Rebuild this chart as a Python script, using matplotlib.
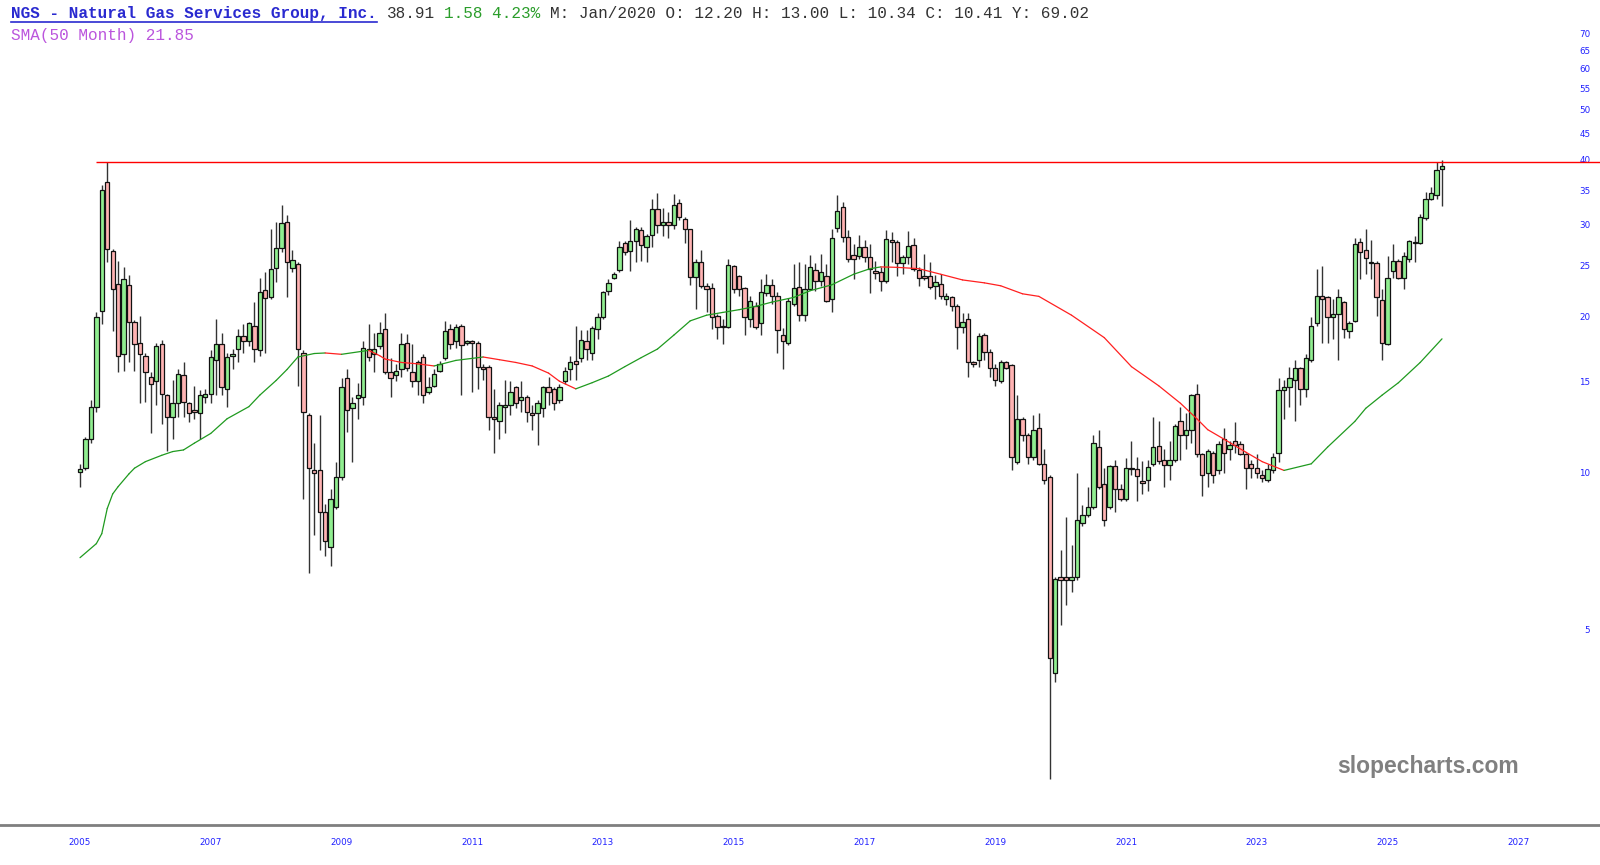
import numpy as np
import matplotlib
matplotlib.use('Agg')
import matplotlib.pyplot as plt
from matplotlib.lines import Line2D

# Monthly OHLC for NGS, one bar per month (first bar is May 2005)
opens = [
    10.05, 10.2, 11.6, 13.4, 20.5, 36.3, 26.7, 23.1, 16.9, 23.0,
    19.5, 17.8, 16.8, 15.3, 15.0, 17.7, 14.1, 12.8, 13.6, 15.4,
    13.6, 13.2, 13.0, 14.0, 14.2, 16.5, 17.7, 14.5, 16.8, 17.3,
    18.3, 17.9, 19.2, 17.2, 22.5, 21.8, 24.8, 27.1, 30.4, 24.8,
    25.2, 17.0, 12.9, 10.1, 10.1, 8.4, 7.2, 8.6, 9.8, 15.2,
    13.3, 13.9, 14.0, 17.3, 16.9, 17.5, 18.9, 15.6, 15.4, 15.8,
    17.8, 15.6, 15.0, 16.7, 14.3, 14.7, 15.7, 16.6, 18.9, 17.9,
    19.2, 17.8, 17.9, 17.8, 16.0, 16.0, 12.8, 12.6, 13.4, 13.5,
    14.6, 13.8, 14.0, 13.0, 13.0, 13.3, 14.6, 14.5, 13.8, 15.0,
    15.8, 16.4, 16.6, 17.9, 17.0, 18.9, 19.9, 22.4, 23.7, 24.6,
    27.7, 26.7, 27.9, 29.3, 27.2, 28.7, 32.2, 30.0, 30.4, 30.0,
    33.1, 30.8, 29.4, 23.8, 25.5, 22.9, 22.7, 20.0, 19.2, 19.1,
    25.0, 23.9, 22.7, 19.8, 20.9, 19.4, 22.2, 23.0, 21.9, 18.4,
    17.8, 21.1, 22.8, 20.1, 22.6, 24.6, 23.4, 23.9, 21.6, 29.6,
    32.5, 28.4, 26.2, 26.1, 27.2, 26.0, 24.5, 24.3, 23.4, 28.0,
    27.8, 25.3, 26.0, 27.4, 24.6, 23.9, 23.9, 22.9, 23.1, 21.6,
    21.8, 20.9, 19.1, 19.8, 16.3, 16.5, 18.4, 17.1, 15.9, 15.0,
    16.3, 16.1, 10.5, 12.7, 11.8, 10.7, 12.20, 10.4, 9.8, 4.12,
    6.3, 6.3, 6.2, 6.3, 8.0, 8.3, 8.6, 11.2, 9.5, 8.6,
    10.3, 9.3, 8.9, 10.2, 10.15, 9.65, 9.7, 10.4, 11.25, 10.6,
    10.35, 10.6, 12.6, 11.8, 12.1, 14.2, 10.85, 10.0, 10.9, 10.1,
    11.6, 11.1, 11.5, 11.35, 10.85, 10.4, 10.2, 9.9, 9.7, 10.1,
    10.9, 14.4, 14.6, 15.1, 15.9, 14.5, 16.5, 19.4, 21.9, 21.8,
    19.9, 20.2, 21.3, 18.7, 19.6, 27.8, 26.8, 25.5, 25.3, 21.5,
    17.7, 24.4, 25.6, 23.7, 25.8, 27.7, 27.7, 30.9, 33.7, 34.2,
    38.45]
highs = [
    10.4, 11.7, 13.8, 20.4, 35.8, 39.7, 27.0, 25.6, 24.9, 24.0,
    19.7, 20.0, 17.0, 15.6, 17.8, 18.0, 14.2, 15.1, 15.8, 16.3,
    13.7, 14.7, 14.4, 14.5, 17.2, 19.8, 18.6, 17.0, 17.3, 18.9,
    19.3, 19.5, 21.3, 23.7, 24.3, 29.5, 30.4, 32.7, 31.3, 26.8,
    25.4, 17.2, 13.0, 11.4, 12.9, 8.7, 9.3, 10.5, 15.2, 15.8,
    14.0, 14.9, 17.9, 19.3, 18.6, 19.5, 20.3, 16.6, 16.2, 18.6,
    18.5, 17.7, 16.5, 16.9, 15.3, 15.8, 16.4, 19.6, 19.3, 19.3,
    19.3, 18.0, 18.0, 17.9, 16.2, 16.1, 14.5, 13.7, 15.1, 15.0,
    14.7, 15.0, 14.1, 13.5, 13.8, 14.7, 15.3, 14.6, 14.8, 16.0,
    16.8, 19.2, 18.8, 18.8, 19.2, 20.3, 22.4, 23.6, 24.3, 27.9,
    27.9, 30.6, 29.7, 29.7, 28.8, 33.6, 34.6, 32.3, 31.8, 34.4,
    33.7, 31.0, 29.5, 25.8, 26.8, 23.2, 23.2, 20.2, 19.8, 25.8,
    25.1, 24.0, 22.8, 21.9, 21.3, 23.6, 24.1, 23.6, 22.3, 19.0,
    21.7, 25.2, 25.4, 25.2, 26.2, 25.3, 26.4, 25.2, 29.5, 34.2,
    33.2, 29.3, 27.6, 28.7, 28.0, 27.6, 25.6, 24.9, 29.3, 29.1,
    28.0, 26.3, 29.2, 28.3, 24.9, 26.4, 25.4, 24.0, 24.1, 22.2,
    21.9, 21.1, 20.3, 20.3, 16.4, 18.6, 18.6, 17.3, 16.2, 16.5,
    16.4, 16.2, 14.1, 12.8, 11.9, 12.9, 13.00, 11.1, 9.9, 6.3,
    7.1, 8.2, 7.25, 10.0, 8.65, 9.4, 11.8, 12.1, 10.2, 10.35,
    10.6, 9.5, 10.65, 11.5, 10.7, 10.55, 10.6, 12.8, 12.6, 11.1,
    11.5, 12.4, 13.4, 13.0, 14.2, 14.8, 10.9, 11.1, 11.0, 11.5,
    12.2, 11.5, 12.5, 11.5, 10.9, 10.6, 10.85, 10.1, 10.4, 10.9,
    15.2, 15.1, 16.0, 16.5, 16.0, 16.9, 19.9, 24.7, 25.0, 21.9,
    21.6, 22.6, 21.4, 19.6, 28.3, 28.3, 29.5, 28.0, 25.6, 22.6,
    26.1, 27.6, 25.8, 26.6, 28.0, 28.5, 31.5, 34.7, 35.5, 39.7,
    40.0]
lows = [
    9.4, 10.1, 11.4, 13.1, 19.3, 25.4, 18.7, 15.6, 15.7, 16.3,
    15.7, 13.6, 13.7, 11.9, 13.5, 12.4, 11.0, 11.6, 12.8, 12.8,
    12.5, 12.7, 11.6, 13.6, 13.6, 14.1, 14.1, 13.4, 15.8, 16.3,
    17.0, 17.5, 16.3, 16.8, 17.0, 21.6, 23.3, 26.6, 21.8, 24.3,
    14.7, 8.9, 6.4, 7.6, 7.1, 6.9, 6.6, 8.5, 9.7, 12.0,
    10.5, 12.7, 13.5, 16.4, 15.6, 17.3, 15.5, 14.0, 15.0, 15.3,
    15.7, 14.6, 14.1, 13.6, 14.2, 14.6, 15.6, 16.5, 17.3, 17.4,
    14.1, 17.6, 14.3, 14.5, 15.1, 12.1, 10.9, 11.6, 11.9, 12.9,
    13.3, 13.1, 12.5, 12.1, 11.3, 12.8, 13.5, 13.2, 13.6, 14.8,
    15.1, 15.1, 16.3, 16.5, 16.5, 18.1, 19.8, 22.0, 23.6, 24.3,
    26.3, 24.4, 25.4, 25.6, 25.4, 27.2, 28.9, 28.6, 28.3, 29.5,
    30.6, 27.7, 23.0, 20.7, 22.7, 20.4, 18.9, 18.1, 17.7, 19.0,
    22.2, 21.9, 18.4, 19.1, 18.9, 18.4, 21.9, 21.1, 17.0, 15.8,
    17.6, 20.9, 19.6, 19.6, 22.5, 22.4, 22.9, 21.3, 20.4, 29.1,
    27.8, 25.4, 23.6, 25.8, 25.4, 22.2, 23.6, 22.4, 23.2, 25.4,
    23.9, 24.1, 25.2, 24.5, 22.9, 23.5, 22.6, 21.6, 21.6, 21.0,
    20.5, 17.3, 18.6, 15.3, 16.0, 16.0, 16.5, 15.3, 14.7, 14.9,
    15.8, 10.1, 10.4, 11.5, 10.4, 10.6, 10.34, 9.5, 2.57, 3.95,
    5.1, 5.55, 5.9, 6.2, 7.9, 8.2, 8.5, 9.3, 7.9, 8.5,
    8.4, 8.8, 8.8, 9.9, 8.8, 9.1, 9.2, 10.3, 10.4, 9.4,
    9.7, 10.5, 10.6, 11.1, 11.4, 10.7, 9.0, 9.4, 9.55, 9.95,
    10.0, 10.6, 10.9, 10.8, 9.3, 9.75, 9.75, 9.6, 9.6, 10.0,
    10.5, 12.7, 13.4, 12.6, 13.5, 14.0, 16.3, 19.2, 17.8, 17.8,
    18.1, 16.5, 18.2, 18.2, 19.5, 23.6, 24.1, 23.6, 20.0, 16.5,
    17.6, 23.7, 23.6, 22.6, 25.4, 25.4, 27.5, 30.6, 33.5, 33.7,
    32.6]
closes = [
    10.15, 11.6, 13.4, 19.9, 35.0, 26.9, 22.6, 16.8, 23.6, 19.5,
    17.7, 16.9, 15.6, 14.8, 17.5, 14.2, 12.8, 13.6, 15.5, 13.7,
    13.0, 13.1, 14.1, 14.2, 16.7, 17.7, 14.6, 16.7, 16.9, 18.3,
    17.9, 19.4, 17.3, 22.3, 21.7, 24.7, 27.1, 30.3, 25.5, 25.7,
    17.3, 13.1, 10.2, 10.0, 8.4, 7.4, 8.9, 9.8, 14.6, 13.2,
    13.6, 14.1, 17.4, 16.7, 17.3, 18.6, 15.6, 15.2, 15.7, 17.7,
    15.9, 15.0, 16.3, 14.1, 14.6, 15.5, 16.2, 18.7, 17.7, 19.1,
    17.6, 17.9, 17.8, 16.0, 15.8, 12.8, 12.7, 13.5, 13.5, 14.3,
    13.6, 14.0, 13.1, 12.9, 13.6, 14.6, 14.3, 13.6, 14.6, 15.7,
    16.3, 16.2, 18.0, 17.3, 19.0, 19.9, 22.3, 23.2, 24.1, 27.2,
    26.6, 27.9, 29.4, 27.4, 28.6, 32.2, 30.0, 30.4, 30.0, 32.8,
    31.0, 29.4, 23.8, 25.5, 22.9, 22.6, 19.9, 19.1, 19.1, 25.1,
    22.6, 22.6, 19.9, 21.4, 19.1, 22.3, 23.0, 21.9, 18.8, 17.9,
    21.4, 22.7, 20.1, 22.6, 24.9, 23.4, 24.3, 21.4, 28.3, 31.9,
    28.4, 25.8, 25.8, 27.2, 26.0, 24.7, 24.2, 23.4, 28.2, 27.8,
    25.3, 26.0, 27.3, 24.7, 23.7, 23.7, 22.8, 23.3, 21.9, 21.9,
    20.9, 19.1, 19.5, 16.3, 16.2, 18.3, 17.1, 15.9, 15.1, 16.3,
    15.9, 10.7, 12.7, 11.8, 10.7, 12.1, 10.41, 9.7, 4.4, 6.25,
    6.2, 6.2, 6.3, 8.1, 8.3, 8.6, 11.4, 9.4, 8.1, 10.3,
    9.3, 8.9, 10.2, 10.15, 9.85, 9.55, 10.25, 11.2, 10.55, 10.35,
    10.6, 12.3, 11.8, 12.1, 14.1, 10.85, 9.9, 11.0, 9.9, 11.35,
    10.9, 11.3, 11.3, 10.85, 10.2, 10.2, 10.0, 9.75, 10.15, 10.7,
    14.4, 14.6, 15.2, 15.9, 14.5, 16.6, 19.2, 21.9, 21.6, 19.9,
    20.2, 21.8, 18.9, 19.4, 27.6, 26.6, 25.9, 25.3, 21.8, 17.8,
    23.7, 25.6, 23.7, 26.1, 27.9, 27.8, 31.0, 33.6, 34.6, 38.2,
    38.91]

# 50-month SMA at these bar numbers
sma_month = [0, 3, 4, 5, 6, 7, 9, 10, 12, 15,
             17, 19, 21, 24, 27, 31, 33, 36, 38, 40,
             43, 45, 48, 53, 55, 56, 59, 62, 65, 69,
             74, 77, 80, 83, 86, 88, 91, 94, 97, 100,
             103, 106, 109, 112, 115, 118, 121, 124, 127, 131,
             134, 138, 142, 145, 147, 150, 154, 158, 162, 166,
             169, 173, 176, 182, 188, 193, 198, 202, 205, 207,
             210, 214, 217, 221, 226, 229, 234, 236, 239, 242,
             246, 250]
sma_value = [6.86, 7.3, 7.63, 8.53, 9.1, 9.4, 9.95, 10.2, 10.5, 10.8,
             10.98, 11.06, 11.4, 11.9, 12.7, 13.4, 14.1, 15.05, 15.8, 16.7,
             16.96, 17.0, 16.9, 17.2, 16.8, 16.55, 16.3, 16.2, 16.05, 16.45,
             16.7, 16.5, 16.3, 16.05, 15.55, 15.0, 14.5, 14.9, 15.35, 16.0,
             16.65, 17.3, 18.4, 19.6, 20.1, 20.35, 20.6, 20.9, 21.3, 21.75,
             22.4, 23.0, 24.1, 24.7, 24.9, 24.85, 24.7, 24.1, 23.5, 23.2,
             22.9, 22.1, 21.85, 20.1, 18.2, 16.0, 14.7, 13.6, 12.7, 12.1,
             11.6, 10.95, 10.5, 10.1, 10.4, 11.2, 12.55, 13.3, 14.1, 14.9,
             16.3, 18.1]

resistance = 39.7      # horizontal line drawn at the 2006 high
resistance_from = 3

price_ticks = [5, 10, 15, 20, 25, 30, 35, 40, 45, 50, 55, 60, 65, 70]
year_labels = ['2005', '2007', '2009', '2011', '2013', '2015',
               '2017', '2019', '2021', '2023', '2025', '2027']

title_name = 'NGS - Natural Gas Services Group, Inc.'
last_price = '38.91'
change_txt = '1.58 4.23%'
hover_txt = 'M: Jan/2020 O: 12.20 H: 13.00 L: 10.34 C: 10.41 Y: 69.02'
sma_txt = 'SMA(50 Month) 21.85'

# figure: 1600 x 865 px
W, H = 1600, 865
fig = plt.figure(figsize=(W / 100, H / 100), dpi=100)
fig.patch.set_facecolor('white')
ax = fig.add_axes([0, 40 / H, 1, 825 / H])

o = np.array(opens)
h = np.array(highs)
l = np.array(lows)
c = np.array(closes)
x = np.arange(len(o))
up = c >= o

# wicks then bodies
ax.vlines(x, l, h, color='#333333', linewidth=1.0, zorder=2)
ax.bar(x, np.abs(c - o), bottom=np.minimum(o, c), width=0.8,
       color=['#90ee90' if u else '#ffb3b3' for u in up],
       edgecolor='#111111', linewidth=0.9, zorder=3)

# SMA, green while rising and red while falling
for i in range(len(sma_month) - 1):
    col = '#1f9a1f' if sma_value[i + 1] >= sma_value[i] else '#ff2020'
    ax.plot(sma_month[i:i + 2], sma_value[i:i + 2], color=col, lw=0.9,
            solid_capstyle='round', zorder=4)

# axis scaling: bar spacing 5.448 px, first bar at x=80 px
px_per_bar = 5.448
ax.set_yscale('log')
ax.set_xlim(-80 / px_per_bar, (W - 80) / px_per_bar)
ax.set_ylim(2.097, 81.3)

ax.hlines(resistance, resistance_from, ax.get_xlim()[1], color='#ff0000',
          lw=1.0, zorder=5)

ax.yaxis.tick_right()
ax.set_yticks(price_ticks, labels=[str(t) for t in price_ticks])
ax.minorticks_off()
ax.tick_params(axis='y', length=0, pad=-7, labelsize=6.3, labelcolor='#2020ff')
for lbl in ax.get_yticklabels():
    lbl.set_horizontalalignment('right')

ax.set_xticks(np.arange(len(year_labels)) * 24, labels=year_labels)
ax.tick_params(axis='x', length=0, pad=9.5, labelsize=6.3, labelcolor='#2020ff')

for s in ['top', 'left', 'right']:
    ax.spines[s].set_visible(False)
ax.spines['bottom'].set_color('#7f7f7f')
ax.spines['bottom'].set_linewidth(2)
ax.set_facecolor('white')


# header text, monospace so the pieces are placed by character count
def fx(px):
    return px / W


def fy(py):
    return 1 - py / H


char_w = 9.63
mono = 'Liberation Mono'
fs = 11.55
pieces = [(title_name, '#2a2ad0', 'bold'),
          (last_price, '#333333', 'normal'),
          (change_txt, '#2a9d2a', 'normal'),
          (hover_txt, '#333333', 'normal')]
pos = 0
for txt, col, wt in pieces:
    fig.text(fx(11 + pos * char_w), fy(18), txt, family=mono, fontsize=fs,
             color=col, fontweight=wt, va='baseline', ha='left')
    pos += len(txt) + 1
fig.add_artist(Line2D([fx(11), fx(11 + len(title_name) * char_w)], [fy(22), fy(22)],
                      color='#2a2ad0', lw=1.2))
fig.text(fx(11), fy(40), sma_txt, family=mono, fontsize=fs, color='#bb55dd',
         va='baseline', ha='left')

fig.text(fx(1519), fy(767), 'slopecharts.com', family='Liberation Sans',
         fontsize=16.5, fontweight='bold', color='#808080', ha='right', va='center')

fig.savefig('out.png', dpi=100, facecolor='white')
